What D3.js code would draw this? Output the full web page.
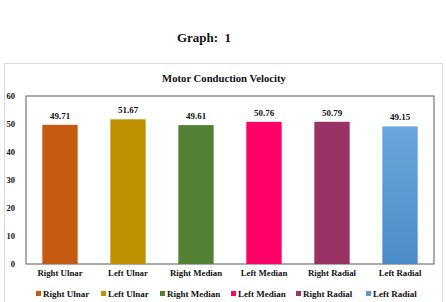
<!DOCTYPE html>
<html>
<head>
<meta charset="utf-8">
<script src="https://cdn.jsdelivr.net/npm/d3@7"></script>
<style>
  body { margin: 0; background: #fff; }
  text { font-family: "Liberation Serif", "Times New Roman", serif; font-weight: bold; fill: #111; }
</style>
</head>
<body>
<div id="chart"></div>
<script>
const categories = ["Right Ulnar", "Left Ulnar", "Right Median", "Left Median", "Right Radial", "Left Radial"];
const values = [49.71, 51.67, 49.61, 50.76, 50.79, 49.15];
const colors = ["#c55a11", "#bf9000", "#548235", "#ff0066", "#993366", "#5b9bd5"];
const yTicks = [0, 10, 20, 30, 40, 50, 60];

const svg = d3.select("#chart").append("svg")
    .attr("width", 446)
    .attr("height", 302);

// page heading
svg.append("text")
    .attr("x", 204).attr("y", 42)
    .attr("text-anchor", "middle")
    .style("font-size", "13px")
    .style("white-space", "pre")
    .text("Graph:  1");

// outer chart frame
svg.append("rect")
    .attr("x", 4.5).attr("y", 63.5)
    .attr("width", 438).attr("height", 250)
    .attr("fill", "none")
    .attr("stroke", "#d9d9d9");

svg.append("text")
    .attr("x", 224).attr("y", 82)
    .attr("text-anchor", "middle")
    .style("font-size", "10.7px")
    .text("Motor Conduction Velocity");

const margin = { top: 96, left: 26, right: 434, bottom: 264 };

const x = d3.scaleBand()
    .domain(categories)
    .range([margin.left, margin.right])
    .paddingInner(0.48)
    .paddingOuter(0.24);

const y = d3.scaleLinear()
    .domain([0, 60])
    .range([margin.bottom, margin.top]);

// plot border
svg.append("rect")
    .attr("x", margin.left).attr("y", margin.top)
    .attr("width", margin.right - margin.left)
    .attr("height", margin.bottom - margin.top)
    .attr("fill", "none")
    .attr("stroke", "#595959")
    .attr("stroke-width", 1);

// gradients for bars
const defs = svg.append("defs");
categories.forEach((c, i) => {
    const g = defs.append("linearGradient")
        .attr("id", "grad" + i)
        .attr("x1", 0).attr("y1", 0).attr("x2", 0).attr("y2", 1);
    const base = d3.color(colors[i]);
    g.append("stop").attr("offset", "0%").attr("stop-color", i === 5 ? "#6aa6dc" : base);
    g.append("stop").attr("offset", "100%").attr("stop-color", i === 5 ? "#4a8bc9" : base);
});

// y axis labels
const yAxis = svg.append("g")
    .attr("transform", `translate(${margin.left - 11},0)`)
    .call(d3.axisLeft(y).tickValues(yTicks).tickSize(0).tickPadding(0));
yAxis.select(".domain").remove();
yAxis.selectAll("text")
    .style("font-size", "8.5px")
    .style("font-family", "Liberation Serif, serif");

// bars
svg.selectAll("rect.bar")
    .data(values)
    .enter()
    .append("rect")
    .attr("class", "bar")
    .attr("x", (d, i) => x(categories[i]))
    .attr("y", d => y(d))
    .attr("width", x.bandwidth())
    .attr("height", d => y(0) - y(d))
    .attr("fill", (d, i) => `url(#grad${i})`);

// value labels
svg.selectAll("text.val")
    .data(values)
    .enter()
    .append("text")
    .attr("class", "val")
    .attr("x", (d, i) => x(categories[i]) + x.bandwidth() / 2)
    .attr("y", d => y(d) - 6)
    .attr("text-anchor", "middle")
    .style("font-size", "9px")
    .text(d => d.toFixed(2));

// x axis labels
const xAxis = svg.append("g")
    .attr("transform", `translate(0,${margin.bottom + 6})`)
    .call(d3.axisBottom(x).tickSize(0).tickPadding(0));
xAxis.select(".domain").remove();
xAxis.selectAll("text")
    .style("font-size", "8.8px")
    .style("font-family", "Liberation Serif, serif");

// legend
const legendX = [36, 101, 160, 231, 296, 366];
const legend = svg.selectAll("g.leg")
    .data(categories)
    .enter()
    .append("g")
    .attr("class", "leg")
    .attr("transform", (d, i) => `translate(${legendX[i]},294)`);
legend.append("rect")
    .attr("x", 0).attr("y", -3)
    .attr("width", 5).attr("height", 5)
    .attr("fill", (d, i) => colors[i]);
legend.append("text")
    .attr("x", 7).attr("y", 3)
    .style("font-size", "9px")
    .text(d => d);
</script>
</body>
</html>
